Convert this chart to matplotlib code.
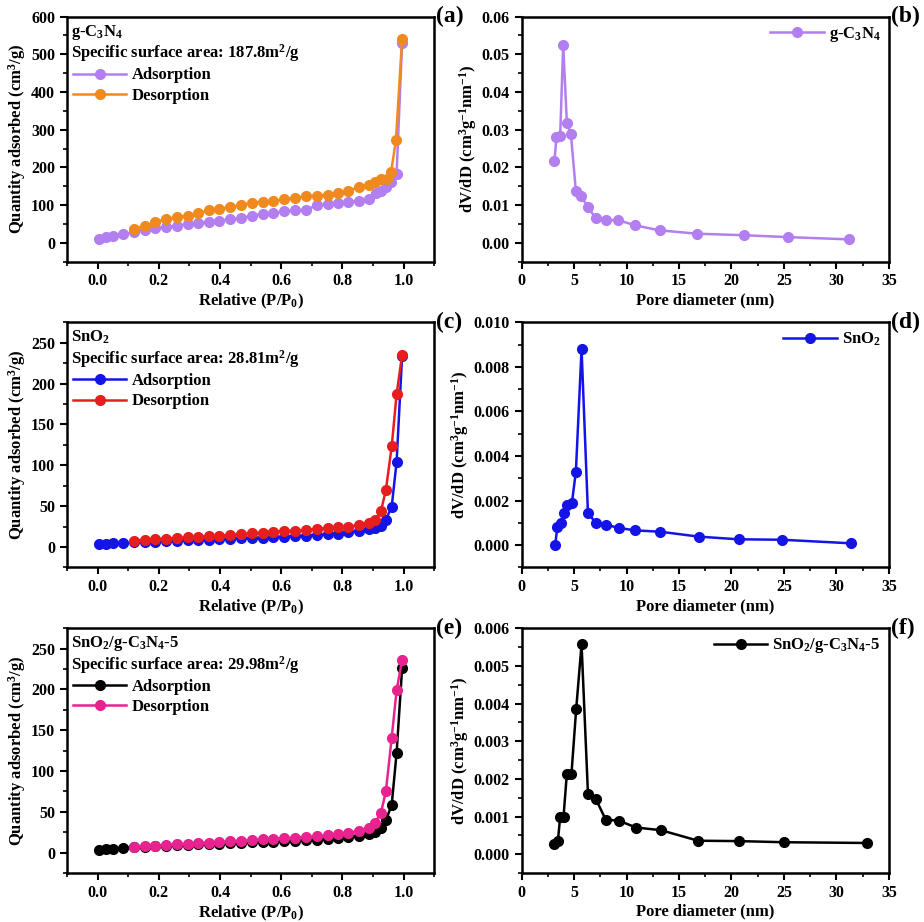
import numpy as np
import matplotlib
matplotlib.use("Agg")
import matplotlib.pyplot as plt
from matplotlib.ticker import MultipleLocator, AutoMinorLocator, FormatStrFormatter

plt.rcParams['font.family'] = ['Liberation Serif', 'DejaVu Serif']
plt.rcParams['font.weight'] = 'bold'
plt.rcParams['mathtext.fontset'] = 'custom'
plt.rcParams['mathtext.rm'] = 'Liberation Serif:bold'
plt.rcParams['mathtext.it'] = 'Liberation Serif:bold:italic'
plt.rcParams['mathtext.bf'] = 'Liberation Serif:bold'

# ---- (a) g-C3N4 isotherm ----
a_ads_x = [0.005, 0.027, 0.049, 0.084, 0.118, 0.154, 0.188, 0.223, 0.258, 0.294, 0.329, 0.364,
           0.398, 0.434, 0.469, 0.504, 0.539, 0.574, 0.610, 0.645, 0.681, 0.716, 0.752, 0.784,
           0.817, 0.853, 0.888, 0.910, 0.926, 0.942, 0.959, 0.977, 0.995]
a_ads_y = [9, 14, 18, 23, 28, 33, 38, 41, 45, 49, 52, 56, 59, 62, 65, 71, 77, 79, 83, 86, 88, 99,
           102, 106, 108, 112, 116, 132, 138, 147, 160, 183, 530]
a_des_x = [0.118, 0.154, 0.188, 0.223, 0.258, 0.294, 0.329, 0.364, 0.398, 0.434, 0.469, 0.504,
           0.539, 0.574, 0.610, 0.645, 0.681, 0.716, 0.752, 0.784, 0.817, 0.853, 0.888, 0.907,
           0.926, 0.945, 0.959, 0.975, 0.995]
a_des_y = [37, 44, 55, 62, 68, 72, 79, 86, 90, 95, 100, 106, 108, 110, 115, 119, 123, 125, 128,
           132, 138, 147, 154, 161, 168, 170, 188, 273, 541]

# ---- (b) g-C3N4 pore size ----
b_x = [3.13, 3.32, 3.67, 3.96, 4.31, 4.69, 5.17, 5.65, 6.32, 7.05, 8.01, 9.22, 10.82, 13.14,
       16.72, 21.15, 25.36, 31.17]
b_y = [0.0218, 0.0280, 0.0282, 0.0525, 0.0318, 0.0289, 0.0137, 0.0125, 0.0094, 0.0066, 0.0060,
       0.0060, 0.0046, 0.0033, 0.0024, 0.0020, 0.0015, 0.0009]

# ---- (c) SnO2 isotherm ----
c_ads_x = [0.005, 0.027, 0.049, 0.084, 0.118, 0.154, 0.188, 0.223, 0.258, 0.294, 0.329, 0.364,
           0.398, 0.434, 0.469, 0.504, 0.539, 0.574, 0.610, 0.645, 0.681, 0.716, 0.752, 0.784,
           0.817, 0.853, 0.888, 0.907, 0.926, 0.942, 0.961, 0.977, 0.995]
c_ads_y = [3.7, 4.1, 4.5, 4.9, 5.7, 6.2, 6.6, 7.4, 7.8, 8.2, 8.6, 9.0, 9.4, 10.3, 10.7, 11.1,
           11.5, 11.9, 12.7, 13.5, 13.9, 14.8, 15.6, 16.4, 18.0, 19.7, 21.7, 23.4, 25.4, 33.6,
           49.2, 104, 234]
c_des_x = [0.118, 0.154, 0.188, 0.223, 0.258, 0.294, 0.329, 0.364, 0.398, 0.434, 0.469, 0.504,
           0.539, 0.574, 0.610, 0.645, 0.681, 0.716, 0.752, 0.784, 0.817, 0.853, 0.888, 0.907,
           0.926, 0.942, 0.961, 0.977, 0.995]
c_des_y = [7.8, 8.6, 9.4, 10.3, 11.1, 11.9, 12.7, 13.1, 13.9, 14.8, 15.6, 16.8, 17.6, 18.5, 19.3,
           20.1, 20.9, 22.1, 23.0, 24.2, 24.6, 26.7, 29.9, 32.8, 43.9, 69.7, 123, 187, 235]

# ---- (d) SnO2 pore size ----
d_x = [3.19, 3.41, 3.73, 4.02, 4.37, 4.79, 5.17, 5.71, 6.32, 7.08, 8.01, 9.25, 10.85, 13.21,
       16.88, 20.67, 24.82, 31.39]
d_y = [0.0000, 0.0008, 0.0010, 0.00143, 0.0018, 0.0019, 0.0033, 0.0088, 0.00143, 0.0010,
       0.00092, 0.00077, 0.00066, 0.0006, 0.00038, 0.00026, 0.00024, 0.00008]

# ---- (e) SnO2/g-C3N4-5 isotherm ----
e_ads_x = c_ads_x
e_ads_y = [3.3, 4.1, 4.9, 5.7, 7.0, 7.4, 7.8, 8.6, 9.0, 9.4, 10.2, 10.7, 11.1, 11.9, 12.3, 12.7,
           13.1, 13.5, 13.9, 14.8, 15.2, 16.0, 16.8, 17.6, 18.9, 20.5, 23.4, 25.8, 29.9, 39.8,
           58.6, 122, 226]
e_des_x = c_des_x
e_des_y = [7.4, 8.2, 8.6, 9.4, 10.2, 10.7, 11.5, 12.3, 13.1, 13.9, 14.8, 15.6, 16.4, 17.2, 17.6,
           18.4, 19.3, 20.1, 21.3, 22.5, 24.2, 26.6, 30.7, 36.9, 49.2, 75, 140.6, 198.8, 235.7]

# ---- (f) SnO2/g-C3N4-5 pore size ----
f_x = [3.13, 3.45, 3.67, 3.99, 4.31, 4.75, 5.20, 5.71, 6.32, 7.08, 8.01, 9.28, 10.91, 13.27,
       16.81, 20.67, 24.97, 32.90]
f_y = [0.00027, 0.00034, 0.00099, 0.00099, 0.00214, 0.00214, 0.00386, 0.00557, 0.00161,
       0.00146, 0.00092, 0.00089, 0.00071, 0.00064, 0.00036, 0.00035, 0.00032, 0.00030]

PURPLE = '#b27ef0'
ORANGE = '#f08a1e'
BLUE = '#1414e6'
RED = '#e61e1e'
BLACK = '#000000'
PINK = '#e8238f'

fig, axes = plt.subplots(3, 2, figsize=(9.24, 9.22), dpi=100)
plt.subplots_adjust(left=0.0725, right=0.962, top=0.982, bottom=0.053, wspace=0.238, hspace=0.248)


def style_axes(ax):
    for s in ax.spines.values():
        s.set_linewidth(1.8)
    ax.tick_params(which='major', direction='out', length=5, width=1.5, labelsize=11.5,
                   top=False, right=False)
    ax.tick_params(which='minor', direction='out', length=3, width=1.2, top=False, right=False)
    ax.xaxis.set_minor_locator(AutoMinorLocator(2))
    ax.yaxis.set_minor_locator(AutoMinorLocator(2))
    for lab in ax.get_xticklabels() + ax.get_yticklabels():
        lab.set_fontweight('bold')


def plot_iso(ax, ax_x, ax_y, ds_x, ds_y, c1, c2, name, area, ylim, yticks, tag):
    ax.plot(ax_x, ax_y, '-o', color=c1, lw=1.8, ms=7, mec=c1, label='Adsorption', zorder=3)
    ax.plot(ds_x, ds_y, '-o', color=c2, lw=1.8, ms=7, mec=c2, label='Desorption', zorder=4)
    ax.set_xlim(-0.1, 1.1)
    ax.set_ylim(*ylim)
    ax.xaxis.set_major_locator(MultipleLocator(0.2))
    ax.xaxis.set_major_formatter(FormatStrFormatter('%.1f'))
    ax.yaxis.set_major_locator(MultipleLocator(yticks))
    ax.set_xlabel('Relative (P/P$_0$)', fontsize=12, fontweight='bold', labelpad=2)
    ax.set_ylabel('Quantity adsorbed (cm$^3$/g)', fontsize=12, fontweight='bold', labelpad=2)
    ax.text(0.012, 0.975, name, transform=ax.transAxes, fontsize=12, fontweight='bold',
            va='top', ha='left')
    ax.text(0.012, 0.895, 'Specific surface area: ' + area + 'm$^2$/g', transform=ax.transAxes,
            fontsize=12, fontweight='bold', va='top', ha='left')
    ax.legend(loc='upper left', bbox_to_anchor=(-0.015, 0.84), frameon=False, fontsize=12,
              handlelength=3.2, handletextpad=0.3, labelspacing=0.25, borderpad=0.2,
              prop={'weight': 'bold', 'size': 12})
    ax.text(1.005, 1.0, tag, transform=ax.transAxes, fontsize=17, fontweight='bold',
            va='center', ha='left')
    style_axes(ax)


def plot_pore(ax, x, y, color, name, ylim, ystep, fmt, tag):
    ax.plot(x, y, '-o', color=color, lw=1.8, ms=7, mec=color, label=name)
    ax.set_xlim(0, 35)
    ax.set_ylim(*ylim)
    ax.xaxis.set_major_locator(MultipleLocator(5))
    ax.yaxis.set_major_locator(MultipleLocator(ystep))
    ax.yaxis.set_major_formatter(FormatStrFormatter(fmt))
    ax.set_xlabel('Pore diameter (nm)', fontsize=12, fontweight='bold', labelpad=2)
    ax.set_ylabel('dV/dD (cm$^3$g$^{-1}$nm$^{-1}$)', fontsize=12, fontweight='bold', labelpad=2)
    ax.legend(loc='upper right', frameon=False, handlelength=3.2, handletextpad=0.3,
              borderpad=0.3, borderaxespad=0.2, prop={'weight': 'bold', 'size': 12})
    ax.text(1.005, 1.0, tag, transform=ax.transAxes, fontsize=17, fontweight='bold',
            va='center', ha='left')
    style_axes(ax)


plot_iso(axes[0, 0], a_ads_x, a_ads_y, a_des_x, a_des_y, PURPLE, ORANGE,
         'g-C$_3$N$_4$', '187.8', (-50, 600), 100, '(a)')
plot_pore(axes[0, 1], b_x, b_y, PURPLE, 'g-C$_3$N$_4$', (-0.005, 0.06), 0.01, '%.2f', '(b)')
plot_iso(axes[1, 0], c_ads_x, c_ads_y, c_des_x, c_des_y, BLUE, RED,
         'SnO$_2$', '28.81', (-25, 275), 50, '(c)')
plot_pore(axes[1, 1], d_x, d_y, BLUE, 'SnO$_2$', (-0.001, 0.010), 0.002, '%.3f', '(d)')
plot_iso(axes[2, 0], e_ads_x, e_ads_y, e_des_x, e_des_y, BLACK, PINK,
         'SnO$_2$/g-C$_3$N$_4$-5', '29.98', (-25, 275), 50, '(e)')
plot_pore(axes[2, 1], f_x, f_y, BLACK, 'SnO$_2$/g-C$_3$N$_4$-5', (-0.0005, 0.006), 0.001,
          '%.3f', '(f)')

fig.savefig('out.png', dpi=100)
